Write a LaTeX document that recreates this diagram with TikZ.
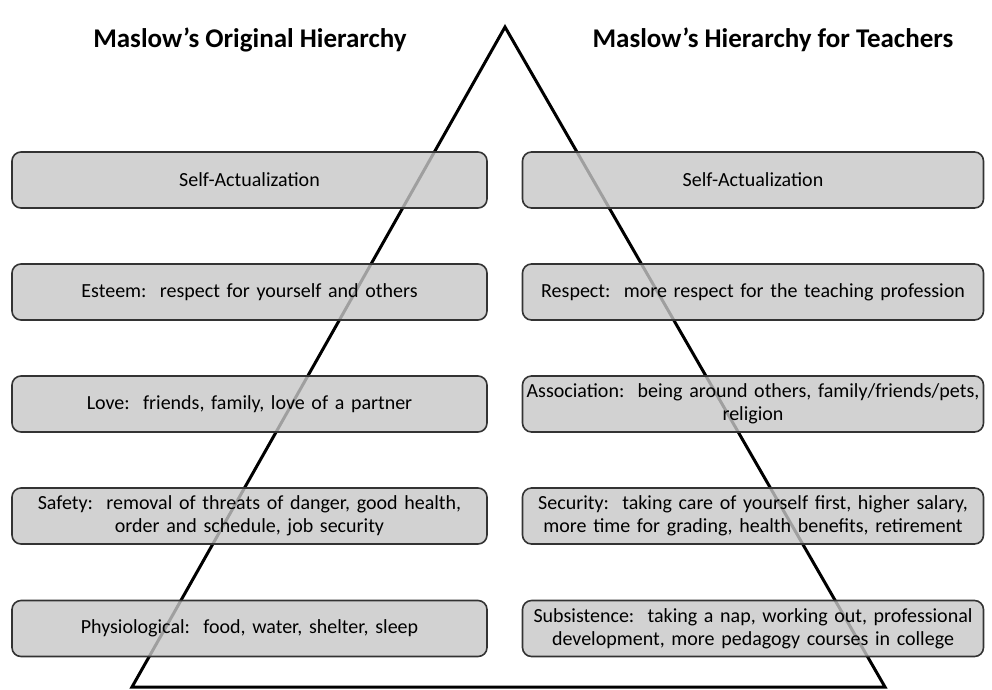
\documentclass[tikz,border=0pt]{standalone}
\usepackage{fontspec}
\setmainfont{Carlito}
\usepackage{tikz}
\usetikzlibrary{positioning}

\begin{document}
\begin{tikzpicture}[
  x=1pt,y=-1pt,
  level/.style={draw=black!80,line width=1.6pt,rounded corners=9pt,fill=black!22,fill opacity=0.8,text opacity=1,
    align=center,minimum height=56pt,inner sep=2pt,font=\fontsize{20}{23}\selectfont},
  lbox/.style={level,minimum width=475pt,text width=470pt},
  rbox/.style={level,minimum width=461pt,text width=456pt},
  heading/.style={font=\fontsize{27}{30}\selectfont\bfseries}
]
\useasboundingbox (0,0) rectangle (992,689);
% pyramid behind the boxes
\coordinate (apex) at (505,27);
\coordinate (bl) at (132,687);
\coordinate (br) at (885,687);
\draw[line width=3pt,line join=miter] (bl) -- (apex) -- (br) -- cycle;

\node[heading] (orig) at (250,40) {Maslow’s Original Hierarchy};
\node[heading] (teach) at (773,40) {Maslow’s Hierarchy for Teachers};

% original hierarchy
\node[lbox] (selfL) at (249.5,180) {Self-Actualization};
\node[lbox] (esteem) at (249.5,292) {Esteem:\ \ respect for yourself and others};
\node[lbox] (love) at (249.5,404) {Love:\ \ friends, family, love of a partner};
\node[lbox] (safety) at (249.5,516) {Safety:\ \ removal of threats of danger, good health,\\order and schedule, job security};
\node[lbox] (physio) at (249.5,628.5) {Physiological:\ \ food, water, shelter, sleep};

% teachers
\node[rbox] (selfR) at (753,180) {Self-Actualization};
\node[rbox] (respect) at (753,292) {Respect:\ \ more respect for the teaching profession};
\node[rbox] (assoc) at (753,404) {Association:\ \ being around others, family/friends/pets,\\religion};
\node[rbox] (security) at (753,516) {Security:\ \ taking care of yourself first, higher salary,\\more time for grading, health benefits, retirement};
\node[rbox] (subsist) at (753,628.5) {Subsistence:\ \ taking a nap, working out, professional\\development, more pedagogy courses in college};
\end{tikzpicture}
\end{document}
